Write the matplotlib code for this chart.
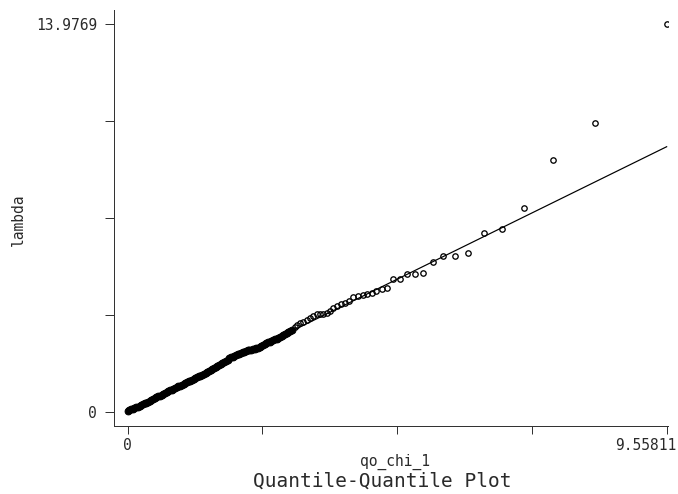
import matplotlib
matplotlib.use("Agg")
import matplotlib.pyplot as plt
import matplotlib.transforms as mtransforms

# ---- data ----
# dense part of the plot (chi-square(1) quantiles vs sorted lambda)
qx_dense = [0.00, 0.03, 0.06, 0.09, 0.12, 0.15, 0.18, 0.21, 0.24, 0.27,
            0.30, 0.33, 0.36, 0.39, 0.42, 0.45, 0.48, 0.51, 0.54, 0.57,
            0.60, 0.63, 0.66, 0.69, 0.72, 0.75, 0.78, 0.81, 0.84, 0.87,
            0.90, 0.93, 0.96, 0.99, 1.02, 1.05, 1.08, 1.11, 1.14, 1.17,
            1.20, 1.23, 1.26, 1.29, 1.32, 1.35, 1.38, 1.41, 1.44, 1.47,
            1.50, 1.53, 1.56, 1.59, 1.62, 1.65, 1.68, 1.71, 1.74, 1.77,
            1.80, 1.83, 1.86, 1.89, 1.92, 1.95, 1.98, 2.01, 2.04, 2.07,
            2.10, 2.13, 2.16, 2.19, 2.22, 2.25, 2.28, 2.31, 2.34, 2.37,
            2.40, 2.43, 2.46, 2.49, 2.52, 2.55, 2.58, 2.61, 2.64, 2.67,
            2.70, 2.73, 2.76, 2.79, 2.82, 2.85, 2.88, 2.91]
lam_dense = [0.03, 0.06, 0.08, 0.11, 0.13, 0.16, 0.18, 0.21, 0.24, 0.27,
             0.30, 0.33, 0.36, 0.39, 0.42, 0.45, 0.49, 0.52, 0.55, 0.58,
             0.62, 0.65, 0.68, 0.71, 0.74, 0.77, 0.80, 0.82, 0.85, 0.88,
             0.91, 0.94, 0.97, 1.00, 1.03, 1.06, 1.09, 1.12, 1.15, 1.18,
             1.21, 1.24, 1.27, 1.30, 1.33, 1.36, 1.39, 1.43, 1.46, 1.49,
             1.53, 1.56, 1.60, 1.64, 1.68, 1.72, 1.76, 1.80, 1.84, 1.88,
             1.92, 1.96, 1.99, 2.01, 2.04, 2.07, 2.09, 2.12, 2.15, 2.17,
             2.19, 2.21, 2.22, 2.24, 2.26, 2.27, 2.29, 2.31, 2.33, 2.37,
             2.41, 2.44, 2.47, 2.50, 2.53, 2.55, 2.58, 2.61, 2.64, 2.67,
             2.70, 2.74, 2.77, 2.80, 2.83, 2.86, 2.90, 2.94]

# sparse upper tail
qx_tail = [2.967, 2.997, 3.056, 3.114, 3.174, 3.233, 3.291, 3.352, 3.410, 3.469,
           3.529, 3.588, 3.646, 3.717, 3.783, 3.854, 3.930, 4.001, 4.089, 4.167,
           4.249, 4.327, 4.409, 4.504, 4.593, 4.710, 4.829, 4.962, 5.095, 5.242,
           5.409, 5.597, 5.804, 6.035, 6.313, 6.638, 7.028, 7.547, 8.287, 9.55811]
lam_tail = [3.07, 3.13, 3.19, 3.25, 3.31, 3.37, 3.45, 3.51, 3.51, 3.52,
            3.55, 3.64, 3.73, 3.81, 3.89, 3.93, 4.00, 4.15, 4.18, 4.21,
            4.25, 4.29, 4.37, 4.43, 4.47, 4.78, 4.78, 4.96, 4.96, 4.99,
            5.41, 5.62, 5.62, 5.74, 6.44, 6.60, 7.36, 9.08, 10.40, 13.9769]

x_ticks = [0, 2.3895, 4.7791, 7.1686, 9.55811]
x_tick_labels = ["0", "", "", "", "9.55811"]
y_ticks = [0, 3.4942, 6.9885, 10.4827, 13.9769]
y_tick_labels = ["0", "", "", "", "13.9769"]

x_label = "qo_chi_1"
y_label = "lambda"
title = "Quantile-Quantile Plot"

# ---- figure ----
MONO = "DejaVu Sans Mono"
TXT = "#2a2a2a"
PX = 72 / 100  # points per pixel at dpi 100
fig = plt.figure(figsize=(6.78, 4.94), dpi=100)
ax = fig.add_axes([114 / 678, 68 / 494, 554 / 678, 416 / 494])

qx_all = qx_dense + qx_tail
# reference line (y = x) over the range of the quantiles
ax.plot([qx_all[0], qx_all[-1]], [qx_all[0], qx_all[-1]], color="black",
        linewidth=1.2 * PX, zorder=2)
# dense region: hundreds of overlapping hollow circles render as a solid band
ax.plot(qx_dense, lam_dense, linestyle="none", marker="o", markersize=6.8 * PX,
        markerfacecolor="black", markeredgecolor="black", markeredgewidth=1.0 * PX,
        zorder=3)
ax.plot(qx_tail, lam_tail, linestyle="none", marker="o", markersize=5.4 * PX,
        markerfacecolor="none", markeredgecolor="black", markeredgewidth=1.3 * PX,
        zorder=3)

ax.set_xlim(-0.243, 9.582)
ax.set_ylim(-0.516, 14.49)

for s in ["top", "right"]:
    ax.spines[s].set_visible(False)
for s in ["left", "bottom"]:
    ax.spines[s].set_color("#333333")
    ax.spines[s].set_linewidth(1.0 * PX)

ax.set_xticks(x_ticks)
ax.set_xticklabels(x_tick_labels, family=MONO, fontsize=10.5, color=TXT)
ax.set_yticks(y_ticks)
ax.set_yticklabels(y_tick_labels, family=MONO, fontsize=10.5, color=TXT)
ax.tick_params(axis="x", direction="out", length=8 * PX, width=1.0 * PX,
               color="#333333", pad=4 * PX)
ax.tick_params(axis="y", direction="out", length=9 * PX, width=1.0 * PX,
               color="#333333", pad=8 * PX)

# last x tick label is right-aligned so it stays inside the figure
last = ax.get_xticklabels()[-1]
last.set_horizontalalignment("right")
last.set_transform(last.get_transform() +
                   mtransforms.ScaledTranslation(10 / 100, 0, fig.dpi_scale_trans))

fig.text(395 / 678, (494 - 462) / 494, x_label, family=MONO, fontsize=10.5,
         ha="center", va="center", color=TXT)
fig.text(382 / 678, (494 - 481) / 494, title, family=MONO, fontsize=14,
         ha="center", va="center", color=TXT)
fig.text(18 / 678, (494 - 220) / 494, y_label, family=MONO, fontsize=10.5,
         ha="center", va="center", rotation=90, color=TXT)

fig.savefig("out.png", dpi=100)
